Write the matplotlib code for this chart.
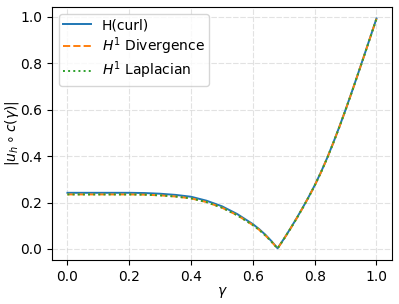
import matplotlib
matplotlib.use("Agg")
import matplotlib.pyplot as plt

plt.rcParams['font.size'] = 10

gamma = [0.00, 0.05, 0.10, 0.15, 0.20, 0.25, 0.30, 0.35, 0.40, 0.45,
         0.50, 0.55, 0.60, 0.62, 0.64, 0.66, 0.68,
         0.70, 0.72, 0.74, 0.76, 0.78, 0.80, 0.82, 0.84, 0.86, 0.88,
         0.90, 0.92, 0.94, 0.96, 0.98, 1.00]

h_curl = [0.242, 0.242, 0.242, 0.242, 0.242, 0.241, 0.238, 0.233, 0.225, 0.208,
          0.184, 0.150, 0.107, 0.086, 0.062, 0.034, 0.003,
          0.043, 0.085, 0.129, 0.175, 0.223, 0.274, 0.330, 0.391, 0.457, 0.527,
          0.600, 0.676, 0.754, 0.833, 0.913, 0.993]

h1_div = [0.235, 0.235, 0.235, 0.235, 0.235, 0.234, 0.231, 0.226, 0.218, 0.202,
          0.178, 0.145, 0.103, 0.083, 0.059, 0.032, 0.002,
          0.042, 0.084, 0.128, 0.174, 0.222, 0.273, 0.329, 0.390, 0.456, 0.526,
          0.599, 0.675, 0.753, 0.832, 0.912, 0.992]

h1_lap = [0.235, 0.235, 0.235, 0.235, 0.235, 0.234, 0.231, 0.226, 0.218, 0.202,
          0.178, 0.145, 0.103, 0.083, 0.059, 0.032, 0.002,
          0.042, 0.084, 0.128, 0.174, 0.222, 0.273, 0.329, 0.390, 0.456, 0.526,
          0.599, 0.675, 0.753, 0.832, 0.912, 0.992]

fig = plt.figure(figsize=(3.99, 3.04), dpi=100)
ax = fig.add_axes([0.1303, 0.1447, 0.852, 0.8323])

ax.plot(gamma, h_curl, color='tab:blue', lw=1.4, label='H(curl)')
ax.plot(gamma, h1_div, color='tab:orange', lw=1.4, ls='--', label=r'$H^1$ Divergence')
ax.plot(gamma, h1_lap, color='tab:green', lw=1.4, ls=':', label=r'$H^1$ Laplacian')

ax.set_xlabel(r'$\gamma$', labelpad=1)
ax.set_ylabel(r'$|u_h \circ c(\gamma)|$')
ax.yaxis.set_label_coords(-0.09, 0.5)
ax.set_xticks([0.0, 0.2, 0.4, 0.6, 0.8, 1.0])
ax.set_yticks([0.0, 0.2, 0.4, 0.6, 0.8, 1.0])
ax.grid(True, color='#d0d0d0', alpha=0.6, lw=0.8, ls=(0, (5, 1.5)))
ax.legend(loc='upper left', labelspacing=0.22, borderpad=0.3)

fig.savefig("out.png", dpi=100)
